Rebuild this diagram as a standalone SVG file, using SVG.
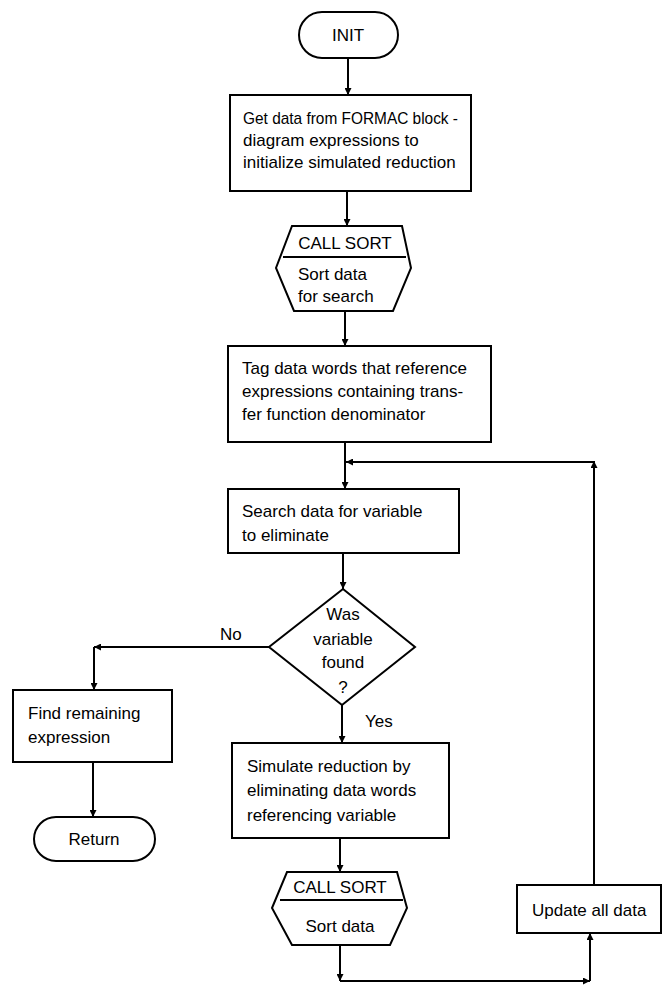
<svg xmlns="http://www.w3.org/2000/svg" width="662" height="985" viewBox="0 0 662 985">
<style>
.s{fill:#fff;stroke:#000;stroke-width:2}
.t{font-family:"Liberation Sans",Arial,sans-serif;font-size:17px;fill:#000}
.c{text-anchor:middle}
.l{fill:none;stroke:#000;stroke-width:2}
</style>
<defs>
<marker id="a" viewBox="0 0 10 10" refX="10" refY="5" markerWidth="9" markerHeight="7" markerUnits="userSpaceOnUse" orient="auto">
<path d="M0,0 L10,5 L0,10 z" fill="#000"/>
</marker>
</defs>
<rect width="662" height="985" fill="#fff"/>
<g id="connectors">
<path class="l" d="M348,58 V95" marker-end="url(#a)"/>
<path class="l" d="M347,191 V226" marker-end="url(#a)"/>
<path class="l" d="M345,311 V346" marker-end="url(#a)"/>
<path class="l" d="M345,442 V489" marker-end="url(#a)"/>
<path class="l" d="M594,462 H346" marker-end="url(#a)"/>
<path class="l" d="M343,553 V589" marker-end="url(#a)"/>
<path class="l" d="M269,647 H94" marker-end="url(#a)"/>
<path class="l" d="M94,647 V690" marker-end="url(#a)"/>
<path class="l" d="M93,762 V817" marker-end="url(#a)"/>
<path class="l" d="M342,705 V743" marker-end="url(#a)"/>
<path class="l" d="M340,838 V872" marker-end="url(#a)"/>
<path class="l" d="M340,945 V981" marker-end="url(#a)"/>
<path class="l" d="M340,981 H590" marker-end="url(#a)"/>
<path class="l" d="M590,981 V933" marker-end="url(#a)"/>
<path class="l" d="M594,885 V461" marker-end="url(#a)"/>
<text class="t" x="220" y="640">No</text>
<text class="t" x="365" y="727">Yes</text>
</g>
<g id="init">
<rect class="s" x="299" y="12" width="99" height="46" rx="23"/>
<text class="t c" x="348" y="41">INIT</text>
</g>
<g id="getdata">
<rect class="s" x="230" y="95" width="241" height="96"/>
<text class="t" x="243" y="124" textLength="215" lengthAdjust="spacingAndGlyphs">Get data from FORMAC block -</text>
<text class="t" x="243" y="146">diagram expressions to</text>
<text class="t" x="243" y="168">initialize simulated reduction</text>
</g>
<g id="sort1">
<path class="s" d="M292,226 H402 L411,268 L393,311 H294 L276,268 Z"/>
<path class="l" d="M283,257 H406"/>
<text class="t c" x="345" y="249">CALL SORT</text>
<text class="t" x="298" y="280">Sort data</text>
<text class="t" x="298" y="302">for search</text>
</g>
<g id="tag">
<rect class="s" x="228" y="346" width="263" height="96"/>
<text class="t" x="242" y="374">Tag data words that reference</text>
<text class="t" x="242" y="397">expressions containing trans-</text>
<text class="t" x="242" y="420">fer function denominator</text>
</g>
<g id="search">
<rect class="s" x="228" y="489" width="231" height="64"/>
<text class="t" x="242" y="517">Search data for variable</text>
<text class="t" x="242" y="541">to eliminate</text>
</g>
<g id="decision">
<path class="s" d="M343,589 L415,647 L342,705 L269,647 Z"/>
<text class="t c" x="343" y="620">Was</text>
<text class="t c" x="343" y="645">variable</text>
<text class="t c" x="343" y="668">found</text>
<text class="t c" x="343" y="693">?</text>
</g>
<g id="find">
<rect class="s" x="13" y="690" width="159" height="72"/>
<text class="t" x="28" y="719">Find remaining</text>
<text class="t" x="28" y="743">expression</text>
</g>
<g id="return">
<rect class="s" x="34" y="817" width="121" height="44" rx="22"/>
<text class="t c" x="94" y="845">Return</text>
</g>
<g id="simulate">
<rect class="s" x="232" y="743" width="217" height="95"/>
<text class="t" x="247" y="772">Simulate reduction by</text>
<text class="t" x="247" y="796">eliminating data words</text>
<text class="t" x="247" y="821">referencing variable</text>
</g>
<g id="sort2">
<path class="s" d="M287,872 H397 L407,908 L390,945 H292 L272,908 Z"/>
<path class="l" d="M280,900 H403"/>
<text class="t c" x="340" y="893">CALL SORT</text>
<text class="t c" x="340" y="932">Sort data</text>
</g>
<g id="update">
<rect class="s" x="517" y="885" width="144" height="48"/>
<text class="t" x="532" y="916">Update all data</text>
</g>
</svg>
